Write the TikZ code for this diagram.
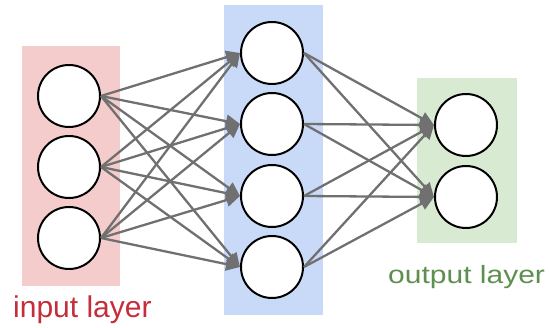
\documentclass[tikz,border=0pt]{standalone}
\usepackage{fontspec}
\setmainfont{Liberation Sans}
\usetikzlibrary{arrows.meta}
\definecolor{inbg}{HTML}{F4CCCC}
\definecolor{hidbg}{HTML}{C9DAF8}
\definecolor{outbg}{HTML}{D9EAD3}
\definecolor{edgegray}{HTML}{707070}
\definecolor{inred}{HTML}{C32E3A}
\definecolor{outgreen}{HTML}{5E8F4E}
\tikzset{
  neuron/.style={circle, draw=black, line width=2pt, fill=white,
    minimum size=62pt, inner sep=0pt},
  link/.style={draw=edgegray, line width=2.3pt},
  arrowlink/.style={link, -{Triangle[length=14pt,width=13pt]}},
  layerlabel/.style={anchor=base west, inner sep=0pt},
}
\begin{document}
\begin{tikzpicture}[x=1pt,y=-1pt]
  \useasboundingbox (0,0) rectangle (549,328);

  % layer backgrounds
  \fill[inbg]  (22,46)  rectangle (120,286);
  \fill[hidbg] (224,5)  rectangle (323,315);
  \fill[outbg] (417,78) rectangle (517,243);

  % neurons
  \node[neuron] (i1) at (69,96)  {};
  \node[neuron] (i2) at (69,167) {};
  \node[neuron] (i3) at (69,238) {};

  \node[neuron] (h1) at (272,53)  {};
  \node[neuron] (h2) at (272,124) {};
  \node[neuron] (h3) at (272,196) {};
  \node[neuron] (h4) at (272,267) {};

  \node[neuron] (o1) at (466,125) {};
  \node[neuron] (o2) at (466,197) {};

  % connections input -> hidden
  \foreach \a in {i1,i2,i3}
    \foreach \b in {h1,h2,h3,h4}
      \draw[arrowlink] (\a.east) -- (\b.west);

  % connections hidden -> output
  \foreach \a in {h1,h2,h3,h4}
    \foreach \b in {o1,o2}
      \draw[arrowlink] (\a.east) -- (\b.west);

  % labels
  \node[layerlabel, text=inred] (inlabel) at (13,318)
    {\fontsize{30}{36}\selectfont input layer};
  \node[layerlabel, text=outgreen, xscale=1.2] (outlabel) at (388,284)
    {\fontsize{25}{30}\selectfont output layer};
\end{tikzpicture}
\end{document}
